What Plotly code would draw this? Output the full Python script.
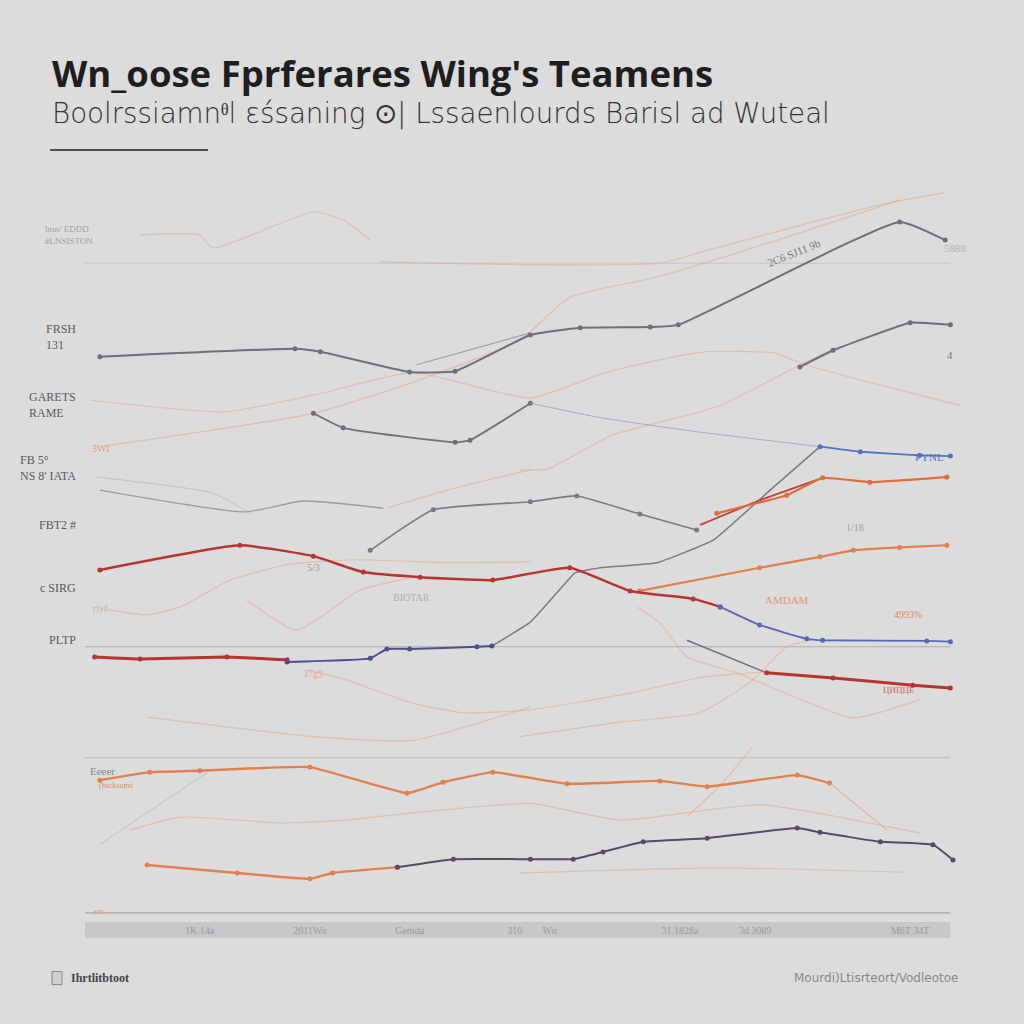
import plotly.graph_objects as go

# ---------------- data ----------------
grey_top_x = [1.7, 24.0, 26.9, 37.1, 42.3, 50.9, 56.6, 64.6, 67.8, 93.1, 98.3]
grey_top_y = [77.0, 78.1, 77.7, 74.9, 75.0, 80.0, 81.0, 81.1, 81.4, 95.6, 93.1]

grey_branch_x = [37.9, 50.9]
grey_branch_y = [75.9, 80.3]

grey_mid_x = [26.1, 29.5, 42.3, 44.0, 50.9]
grey_mid_y = [69.2, 67.2, 65.2, 65.5, 70.6]
grey_mid2_x = [50.9, 58.9, 70.3, 84.0]
grey_mid2_y = [70.6, 68.6, 66.6, 64.6]
blue_upper_x = [84.0, 88.6, 95.4, 98.9]
blue_upper_y = [64.6, 63.9, 63.4, 63.3]

grey_right_x = [81.7, 85.5, 94.3, 98.9]
grey_right_y = [75.6, 77.9, 81.7, 81.4]

grey_low_x = [1.7, 18.3, 24.9, 34.1]
grey_low_y = [58.6, 55.6, 57.1, 56.1]
grey_low2_x = [32.6, 39.8, 50.9, 56.2, 63.4, 69.9]
grey_low2_y = [50.3, 55.9, 57.0, 57.8, 55.3, 53.1]

orange_right_x = [72.2, 80.2, 84.3, 89.7, 98.5]
orange_right_y = [55.4, 57.9, 60.3, 59.7, 60.4]
red_short_x = [70.3, 77.1, 84.3]
red_short_y = [53.8, 57.2, 60.3]

orange_mid_x = [63.4, 77.1, 84.0, 87.8, 93.1, 98.5]
orange_mid_y = [44.7, 47.9, 49.4, 50.3, 50.7, 51.0]

red_mid_x = [1.7, 17.7, 26.1, 31.8, 38.3, 46.6, 55.4, 62.3, 69.5, 72.6]
red_mid_y = [47.6, 51.0, 49.5, 47.3, 46.6, 46.2, 47.9, 44.7, 43.6, 42.5]
blue_lower_x = [72.6, 77.1, 82.5, 84.3, 96.2, 98.9]
blue_lower_y = [42.5, 40.0, 38.1, 37.9, 37.8, 37.7]

red_low_x = [1.1, 6.3, 16.2, 23.1]
red_low_y = [35.6, 35.3, 35.6, 35.2]
navy_x = [23.1, 32.6, 34.5, 37.1, 44.8, 46.5]
navy_y = [34.9, 35.4, 36.7, 36.7, 37.0, 37.1]
grey_rise_x = [46.5, 50.9, 53.9, 56.0, 58.9, 65.4, 71.8, 78.3, 84.0]
grey_rise_y = [37.1, 40.4, 44.4, 47.2, 47.9, 48.6, 51.7, 58.6, 64.6]

grey_drop_x = [68.8, 77.9]
grey_drop_y = [37.9, 33.4]
red_right_x = [77.9, 85.5, 94.6, 98.9]
red_right_y = [33.4, 32.7, 31.7, 31.3]

orange_low_x = [1.7, 7.4, 13.1, 25.7, 36.8, 40.9, 46.6, 55.1, 65.7, 71.1, 81.4, 85.1]
orange_low_y = [18.6, 19.7, 19.9, 20.4, 16.8, 18.3, 19.7, 18.1, 18.5, 17.7, 19.3, 18.2]
orange_tail_x = [85.1, 91.7]
orange_tail_y = [18.2, 11.7]

orange_bottom_x = [7.1, 17.4, 25.7, 28.3, 35.7]
orange_bottom_y = [6.9, 5.8, 5.0, 5.8, 6.6]
purple_x = [35.7, 42.1, 50.9, 55.8, 59.2, 63.8, 71.1, 81.4, 84.0, 90.9, 96.9, 99.2]
purple_y = [6.6, 7.7, 7.7, 7.7, 8.7, 10.1, 10.6, 12.0, 11.4, 10.1, 9.7, 7.6]

# faint background series
faint_series = [
    ([6.3, 13.1, 14.6, 26.1, 29.5, 32.6], [93.8, 93.8, 92.0, 97.0, 95.9, 93.1]),
    ([33.7, 50.9, 65.7, 70.3, 83.2, 91.7, 98.1], [90.1, 89.7, 89.9, 91.4, 95.6, 98.2, 99.6]),
    ([1.7, 26.1, 37.5, 49.7, 55.4, 65.4, 80.2, 93.1], [64.6, 69.2, 73.5, 79.3, 85.2, 88.0, 93.5, 98.6]),
    ([0.6, 16.0, 26.1, 37.5, 50.9, 58.9, 64.6, 71.1, 78.9, 82.3, 93.1, 100], [71.0, 69.4, 71.7, 74.8, 71.3, 74.6, 76.3, 77.7, 77.5, 75.9, 72.4, 70.3]),
    ([49.7, 52.8, 60.3, 72.2, 82.1, 85.1], [61.4, 61.5, 66.2, 70.1, 76.1, 77.7]),
    ([34.5, 41.4, 50.9], [56.1, 58.6, 61.4]),
    ([1.7, 7.1, 10.9, 16.6, 23.4, 31.1, 41.4, 50.9], [42.3, 41.4, 42.5, 46.2, 48.4, 49.0, 48.6, 48.7]),
    ([18.5, 24.2, 31.4, 37.5], [43.4, 39.3, 44.8, 46.6]),
    ([25.4, 29.9, 37.5, 43.2, 50.9, 62.3, 70.6, 77.5], [33.8, 32.4, 29.2, 27.9, 28.3, 30.6, 32.8, 33.5]),
    ([63.1, 65.7, 68.8, 74.5, 87.8, 95.4], [42.5, 40.3, 35.6, 33.4, 27.2, 29.7]),
    ([49.7, 61.1, 70.3, 76.3, 80.2, 82.9], [24.6, 26.6, 27.9, 32.4, 37.0, 37.9]),
    ([5.1, 10.9, 22.3, 29.9, 37.5, 50.9, 61.1, 77.1, 95.4], [11.7, 13.5, 12.7, 13.1, 14.1, 15.4, 13.1, 15.2, 11.3]),
    ([49.7, 72.6, 93.5], [5.8, 6.5, 5.9]),
    ([7.1, 26.1, 37.5, 50.9], [27.3, 24.6, 24.1, 28.7]),
    ([68.8, 72.6, 76.3], [13.5, 17.9, 23.2]),
]
faint_grey_series = [
    ([1.4, 14.6, 18.9], [60.4, 58.2, 55.4]),
    ([1.7, 13.9], [9.7, 19.6]),
]

grid_y = [89.9, 37.0, 21.7]
grid_alpha = [0.25, 0.55, 0.4]

x_tick_vals = [13.1, 25.7, 37.1, 49.1, 53.1, 68.0, 76.6, 94.3]
x_tick_text = ["1K 14a", "2011Wo", "Gemda", "310", "Wu", "31 1828a", "3d 3089", "M6T 34T"]

left_label_y = [93.8, 79.7, 70.3, 61.7, 53.8, 45.1, 37.9]
left_label_text = ["lmn/ EDDD<br>#LNSISTON", "FRSH<br>131", "GARETS<br>RAME",
                   "FB 5°<br>NS 8' IATA", "FBT2 #", "c SIRG", "PLTP"]

right_label_x = [99.5, 101.0, 98.8, 102.5, 96.5, 102.5, 101.5, 100.5, 100.5]
right_label_y = [92.0, 81.5, 77.2, 64.0, 63.2, 55.8, 37.9, 31.5, 11.5]
right_label_text = ["5888", "5D3", "4", "ZE30", "PYNL", "PYTL", "279%", "4NT", "5 T"]

# ---------------- figure ----------------
BG = "#dcdcdd"
fig = go.Figure()


def add(xs, ys, color, width, opacity=1.0, markers=False, smooth=0.5):
    fig.add_trace(go.Scatter(
        x=xs, y=ys, mode="lines+markers" if markers else "lines",
        line=dict(color=color, width=width, shape="spline", smoothing=smooth),
        marker=dict(size=5, color=color), opacity=opacity,
        showlegend=False, hoverinfo="skip"))


for xs, ys in faint_series:
    add(xs, ys, "#e8a37a", 1.2, 0.5)
for xs, ys in faint_grey_series:
    add(xs, ys, "#b4b0b0", 1.0, 0.6)

add(grey_branch_x, grey_branch_y, "#8a8a92", 1.2, 0.7)
add(grey_top_x, grey_top_y, "#6f6f7a", 2.0, 1.0, True, 0.4)
add(grey_mid_x, grey_mid_y, "#6f6f7a", 1.8, 1.0, True, 0.4)
add(grey_mid2_x, grey_mid2_y, "#9aa3c4", 1.0, 0.8)
add(blue_upper_x, blue_upper_y, "#4f72c4", 1.8, 1.0, True, 0.3)
add(grey_right_x, grey_right_y, "#6f6f7a", 2.0, 1.0, True, 0.3)
add(grey_low_x, grey_low_y, "#8a8a92", 1.3, 0.8, False)
add(grey_low2_x, grey_low2_y, "#7a7a84", 1.6, 1.0, True, 0.4)
add(grey_rise_x, grey_rise_y, "#7a7a84", 1.5, 1.0, False, 0.3)
add(grey_drop_x, grey_drop_y, "#6f6f7a", 1.5, 1.0)
add(red_short_x, red_short_y, "#c0423a", 1.8, 1.0, False, 0.3)
add(orange_right_x, orange_right_y, "#df6d3e", 2.2, 1.0, True, 0.3)
add(orange_mid_x, orange_mid_y, "#e27f4a", 2.2, 1.0, True, 0.3)
add(red_mid_x, red_mid_y, "#b83430", 2.5, 1.0, True, 0.4)
add(blue_lower_x, blue_lower_y, "#5a66b8", 1.8, 1.0, True, 0.3)
add(red_low_x, red_low_y, "#b83430", 3.0, 1.0, True, 0.2)
add(navy_x, navy_y, "#4b4f8c", 2.0, 1.0, True, 0.3)
add(red_right_x, red_right_y, "#b83430", 3.0, 1.0, True, 0.3)
add(orange_low_x, orange_low_y, "#e0804c", 2.4, 1.0, True, 0.3)
add(orange_tail_x, orange_tail_y, "#e8a37a", 1.2, 0.6)
add(orange_bottom_x, orange_bottom_y, "#e0804c", 2.4, 1.0, True, 0.3)
add(purple_x, purple_y, "#574a68", 2.0, 1.0, True, 0.3)

shapes = []
for gy, ga in zip(grid_y, grid_alpha):
    shapes.append(dict(type="line", xref="x", yref="y", x0=0, x1=98.9, y0=gy, y1=gy,
                       line=dict(color=f"rgba(140,140,145,{ga})", width=1), layer="below"))
shapes.append(dict(type="line", xref="x", yref="y", x0=0, x1=98.9, y0=0.3, y1=0.3,
                   line=dict(color="#a8a8aa", width=1.2)))
shapes.append(dict(type="rect", xref="x", yref="paper", x0=0, x1=98.9, y0=-0.0317, y1=-0.0097,
                   fillcolor="#c7c7c9", line=dict(width=0), layer="below"))
# title underline
shapes.append(dict(type="line", xref="paper", yref="paper", x0=-0.04, x1=0.1406,
                   y0=1.0552, y1=1.0552, line=dict(color="#222", width=1.5)))
# footer icon
shapes.append(dict(type="rect", xref="paper", yref="paper", x0=-0.0377, x1=-0.0263,
                   y0=-0.096, y1=-0.078, fillcolor="#cfcfd1", line=dict(color="#888", width=1)))

ann = []
ann.append(dict(text="Wn_oose Fprferares Wing's Teamens", xref="paper", yref="paper",
                x=-0.04, y=1.1614, xanchor="left", yanchor="middle", showarrow=False,
                font=dict(family="Open Sans", size=36.5, color="#1e1e1e", weight=700)))
ann.append(dict(text="Boolrssiamn\u1dbfl \u025b\u015bsaning \u2299| Lssaenlourds Barisl ad Wuteal",
                xref="paper", yref="paper", x=-0.04, y=1.1062, xanchor="left", yanchor="middle",
                showarrow=False, font=dict(family="DejaVu Sans", size=27.7, color="#333333", weight=200)))
for yv, txt in zip(left_label_y, left_label_text):
    small = txt.startswith("lmn")
    ann.append(dict(text=txt, xref="paper", yref="y", x=-0.008 if not small else 0.011, y=yv,
                    xanchor="right", yanchor="middle", showarrow=False, align="left",
                    font=dict(family="Liberation Serif", size=9 if small else 12,
                              color="#a0a0a0" if small else "#5a5a5a")))
right_colors = ["#b8b2a8", "#555555", "#777777", "#8a8a8a", "#4f72c4", "#a0a0a0", "#777777", "#aaaaaa", "#aaaaaa"]
for xv, yv, txt, col in zip(right_label_x, right_label_y, right_label_text, right_colors):
    ann.append(dict(text=txt, xref="x", yref="y", x=xv, y=yv, xanchor="center", yanchor="middle",
                    showarrow=False, font=dict(family="Liberation Serif", size=13 if txt in ("5D3", "ZE30") else 11,
                                               color=col)))
# small in-plot labels
extra = [
    (1.8, 64.4, "3Wf", "#e4a070", 10), (1.8, 42.3, "rlyf", "#c0b8a8", 10),
    (26.0, 33.3, "37g9", "#e4a888", 10), (26.1, 47.9, "5/3", "#9a9a9a", 10),
    (37.3, 43.8, "BIOTAR", "#b0b0b0", 10), (2.0, 19.8, "Eeeer", "#888888", 11),
    (3.5, 17.9, "(bscksoms", "#d88860", 8), (1.5, 0.6, "am", "#e4a070", 9),
    (94.0, 41.4, "4993%", "#e08850", 10), (80.2, 43.4, "AMDAM", "#e09a70", 11),
    (93.0, 31.0, "ЦИЦЦЕ", "#d06050", 9), (88.0, 53.5, "1/18", "#a0a0a0", 10),
]
for xv, yv, txt, col, sz in extra:
    ann.append(dict(text=txt, xref="x", yref="y", x=xv, y=yv, xanchor="center", yanchor="middle",
                    showarrow=False, font=dict(family="Liberation Serif", size=sz, color=col)))
ann.append(dict(text="2C6 SJ11 9b", xref="x", yref="y", x=81.0, y=91.3, showarrow=False,
                textangle=-22, font=dict(family="Liberation Serif", size=11, color="#777")))
# footer
ann.append(dict(text="<b>Ihrtlitbtoot</b>", xref="paper", yref="paper", x=-0.0183, y=-0.087,
                xanchor="left", yanchor="middle", showarrow=False,
                font=dict(family="Liberation Serif", size=12, color="#444")))
ann.append(dict(text="Mourdi)Ltisrteort/Vodleotoe", xref="paper", yref="paper", x=1.0, y=-0.087,
                xanchor="right", yanchor="middle", showarrow=False,
                font=dict(family="DejaVu Sans", size=12, color="#888")))

fig.update_layout(
    width=1024, height=1024,
    margin=dict(l=85, r=64, t=190, b=109),
    paper_bgcolor=BG, plot_bgcolor=BG,
    shapes=shapes, annotations=ann,
    xaxis=dict(range=[0, 100], showgrid=False, zeroline=False, showline=False,
               tickvals=x_tick_vals, ticktext=x_tick_text, ticks="outside", ticklen=6,
               tickcolor="rgba(0,0,0,0)",
               tickfont=dict(family="Liberation Serif", size=10, color="#9a9a9a")),
    yaxis=dict(range=[0, 100], showgrid=False, zeroline=False, showline=False,
               showticklabels=False),
)

fig.write_html("out.html", config={"displayModeBar": False},
               post_script="document.body.style.margin='0px';")
